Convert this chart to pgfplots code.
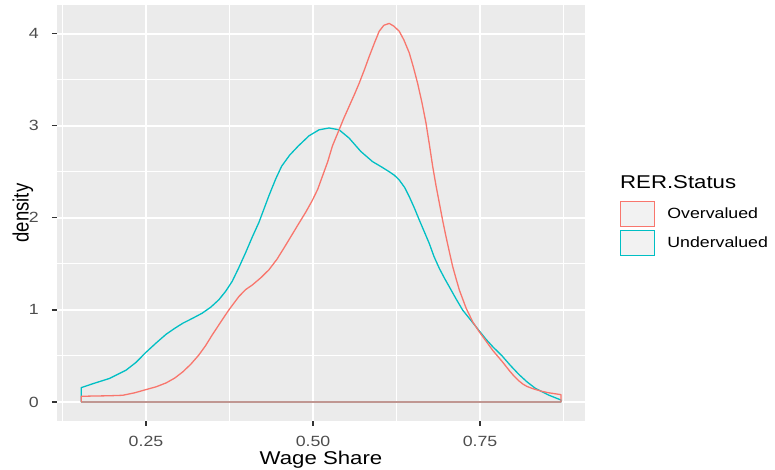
\documentclass[border=0pt]{standalone}
\usepackage{pgfplots}
\pgfplotsset{compat=1.18}
\usepackage{fontspec}
\setmainfont[FakeStretch=1.2]{Liberation Sans}
\newfontfamily\plainfont{Liberation Sans}
\definecolor{ovcol}{HTML}{F8766D}
\definecolor{uncol}{HTML}{00BFC4}
\definecolor{panelbg}{HTML}{EBEBEB}
\definecolor{keybg}{HTML}{F2F2F2}
\definecolor{tickcol}{HTML}{333333}
\definecolor{ticklab}{HTML}{4D4D4D}
\begin{document}
\begin{tikzpicture}
\useasboundingbox (0,0) rectangle (775bp,470bp);
\begin{axis}[
  at={(57bp,49bp)}, anchor=south west,
  scale only axis, width=528bp, height=416bp,
  xmin=0.1168, xmax=0.907, ymin=-0.206, ymax=4.31,
  axis background/.style={fill=panelbg},
  separate axis lines,
  axis line style={draw=none},
  every outer x axis line/.style={draw=none},
  every outer y axis line/.style={draw=none},
  xtick={0.25,0.5,0.75}, xticklabels={0.25,0.50,0.75},
  ytick={0,1,2,3,4}, yticklabels={0,1,2,3,4},
  minor xtick={0.125,0.375,0.625,0.875},
  minor ytick={0.5,1.5,2.5,3.5},
  grid=both,
  major grid style={white, line width=2bp},
  minor grid style={white, line width=1bp},
  tick align=outside, tick pos=left,
  major tick length=5bp, minor tick length=0pt,
  tick style={tickcol, line width=1.4bp},
  xticklabel style={anchor=base, inner sep=0pt, yshift=-20.3bp, font=\fontsize{14.8bp}{17bp}\selectfont, text=ticklab},
  yticklabel style={anchor=east, inner sep=0pt, xshift=-13bp, font=\fontsize{14.8bp}{17bp}\selectfont, text=ticklab},
  xlabel={Wage Share},
  xlabel style={at={(axis description cs:0.5,-0.1045)}, anchor=base, inner sep=0pt, font=\fontsize{18.5bp}{22bp}\selectfont},
  ylabel={\scalebox{1}[1.2]{\plainfont density}},
  ylabel style={at={(axis description cs:-0.0536,0.5)}, anchor=base, inner sep=0pt, font=\fontsize{18.5bp}{22bp}\selectfont},
  legend style={at={(axis description cs:1.0663,0.5296)}, anchor=north west, draw=none, fill=none, inner sep=0pt, row sep=3bp, font=\fontsize{14.8bp}{17bp}\selectfont, nodes={inner sep=0pt}, /tikz/every odd column/.style={column sep=12bp}},
  legend cell align=left,
  legend image code/.code={\draw[#1, fill=keybg] (0bp,-12.5bp) rectangle (34bp,12.5bp);},
]
\addlegendimage{draw=ovcol, line width=1.1bp}
\addlegendentry{Overvalued}
\addlegendimage{draw=uncol, line width=1.1bp}
\addlegendentry{Undervalued}

% Undervalued density
\addplot[forget plot, draw=uncol, line width=1.3bp, line join=round] coordinates {
(0.153,0) (0.153,0.156) (0.171,0.20) (0.195,0.255) (0.220,0.345) (0.235,0.43)
(0.25,0.54) (0.265,0.64) (0.280,0.735) (0.293,0.80) (0.305,0.855) (0.320,0.91)
(0.334,0.964) (0.347,1.03) (0.359,1.11) (0.369,1.20) (0.379,1.31) (0.389,1.46)
(0.399,1.62) (0.409,1.79) (0.419,1.95) (0.434,2.24) (0.444,2.42) (0.453,2.56)
(0.465,2.68) (0.478,2.78) (0.494,2.89) (0.509,2.955) (0.524,2.975) (0.539,2.955)
(0.554,2.865) (0.5715,2.72) (0.589,2.61) (0.603,2.55) (0.614,2.50) (0.622,2.46)
(0.629,2.41) (0.637,2.33) (0.644,2.23) (0.652,2.10) (0.659,1.976) (0.667,1.84)
(0.674,1.72) (0.681,1.58) (0.689,1.45) (0.697,1.34) (0.704,1.25) (0.714,1.12)
(0.724,0.997) (0.737,0.88) (0.749,0.77) (0.759,0.68) (0.769,0.60) (0.783,0.50)
(0.795,0.40) (0.808,0.30) (0.82,0.22) (0.833,0.147) (0.853,0.074) (0.871,0.022)
(0.871,0) (0.153,0)
};

% Overvalued density
\addplot[forget plot, draw=ovcol, line width=1.3bp, line join=round] coordinates {
(0.153,0) (0.153,0.062) (0.171,0.065) (0.195,0.068) (0.215,0.073) (0.233,0.10)
(0.25,0.135) (0.265,0.165) (0.28,0.207) (0.293,0.26) (0.305,0.327) (0.317,0.41)
(0.329,0.51) (0.339,0.61) (0.349,0.727) (0.362,0.87) (0.374,1.0) (0.389,1.145)
(0.399,1.22) (0.409,1.27) (0.422,1.35) (0.434,1.436) (0.446,1.55) (0.458,1.69)
(0.468,1.81) (0.478,1.93) (0.489,2.06) (0.499,2.19) (0.507,2.31) (0.514,2.45)
(0.522,2.61) (0.529,2.78) (0.539,2.955) (0.546,3.08) (0.554,3.21) (0.562,3.34)
(0.569,3.46) (0.577,3.61) (0.584,3.75) (0.592,3.90) (0.599,4.025) (0.606,4.09)
(0.614,4.11) (0.621,4.08) (0.629,4.025) (0.636,3.93) (0.644,3.79) (0.650,3.64)
(0.6565,3.46) (0.663,3.25) (0.669,3.03) (0.674,2.80) (0.679,2.56) (0.684,2.35)
(0.689,2.16) (0.694,1.97) (0.699,1.795) (0.704,1.63) (0.709,1.47) (0.714,1.34)
(0.719,1.215) (0.729,1.02) (0.739,0.87) (0.749,0.76) (0.759,0.66) (0.769,0.56)
(0.776,0.50) (0.783,0.44) (0.789,0.385) (0.795,0.33) (0.801,0.28) (0.808,0.23)
(0.814,0.195) (0.82,0.17) (0.827,0.15) (0.833,0.136) (0.843,0.115) (0.853,0.10)
(0.862,0.09) (0.871,0.08) (0.871,0) (0.153,0)
};
\end{axis}
\node[anchor=base west, inner sep=0pt, font=\fontsize{18.5bp}{22bp}\selectfont] at (620bp,281.7bp) {RER.Status};
\end{tikzpicture}
\end{document}
